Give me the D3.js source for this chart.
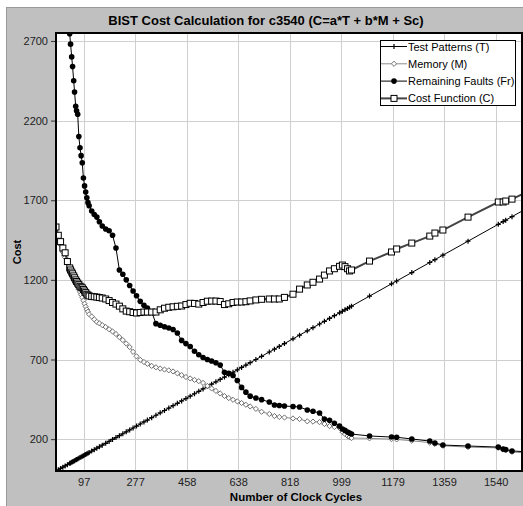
<!doctype html>
<html lang="en">
  <head>
    <meta charset="utf-8">
    <title>BIST Cost Calculation for c3540</title>
    <style>
      * { margin: 0; padding: 0; }
      body { background: #fff; overflow: hidden; }
      svg { display: block; font-family: "Liberation Sans", Arial, sans-serif; }
    </style>
    <script src="https://cdn.jsdelivr.net/npm/d3@7"></script>
  </head>
  <body>
    <svg width="523" height="506"></svg>

    <script>
      // shared clock-cycle samples (x) for every series
      const cycles = [0, 8, 16, 24, 32, 40, 48, 51, 55, 58, 62, 65, 69, 72, 76, 80, 84, 88, 92, 96,
        100, 104, 108, 112, 116, 125, 134, 143, 152, 162, 174, 186, 198, 210, 222, 234, 246, 258, 270, 282,
        295, 308, 320, 335, 350, 365, 380, 395, 410, 425, 440, 455, 470, 485, 500, 515, 530, 545, 560, 575,
        590, 605, 620, 635, 650, 665, 680, 700, 720, 747, 765, 782, 800, 830, 853, 880, 900, 923, 940, 958,
        975, 993, 1003, 1012, 1021, 1028, 1035, 1098, 1175, 1193, 1246, 1309, 1327, 1355, 1443, 1549, 1566, 1575, 1597, 1650];

      const testPatterns = [0, 8, 16, 24, 32, 40, 48, 51, 55, 58, 62, 65, 69, 72, 76, 80, 84, 88, 92, 96,
        100, 104, 108, 112, 116, 125, 134, 143, 152, 162, 174, 186, 198, 210, 222, 234, 246, 258, 270, 282,
        295, 308, 320, 335, 350, 365, 380, 395, 410, 425, 440, 455, 470, 485, 500, 515, 530, 545, 560, 575,
        590, 605, 620, 635, 650, 665, 680, 700, 720, 747, 765, 782, 800, 830, 853, 880, 900, 923, 940, 958,
        975, 993, 1003, 1012, 1021, 1028, 1035, 1098, 1175, 1193, 1246, 1309, 1327, 1355, 1443, 1549, 1566, 1575, 1597, 1650];

      const memory = [1520, 1470, 1420, 1375, 1340, 1310, 1280, 1268, 1250, 1236, 1218, 1204, 1186, 1172, 1157, 1140, 1124, 1107, 1090, 1070,
        1050, 1032, 1015, 1000, 984, 970, 952, 936, 927, 916, 904, 890, 876, 860, 840, 822, 800, 778, 748, 720,
        698, 684, 673, 660, 651, 643, 637, 632, 625, 613, 602, 590, 581, 572, 564, 553, 534, 518, 503, 487,
        471, 458, 447, 437, 427, 416, 405, 390, 372, 358, 345, 339, 336, 330, 326, 312, 310, 307, 295, 282,
        276, 270, 245, 232, 220, 213, 207, 205, 200, 198, 190, 178, 170, 158, 150, 145, 135, 130, 120, 112];

      const remainingFaults = [3600, 3450, 3300, 3150, 3000, 2860, 2745, 2680, 2600, 2540, 2450, 2380, 2290, 2262, 2240, 2100, 2030, 1980, 1935, 1840,
        1790, 1751, 1715, 1685, 1665, 1632, 1610, 1594, 1565, 1538, 1519, 1508, 1480, 1400, 1262, 1235, 1200, 1165, 1130, 1100,
        1065, 1040, 1023, 1000, 925, 915, 906, 898, 888, 866, 820, 800, 782, 752, 730, 713, 700, 691, 680, 665,
        620, 614, 600, 568, 525, 495, 470, 458, 448, 433, 414, 411, 408, 405, 402, 383, 375, 364, 326, 318,
        300, 282, 264, 255, 245, 238, 232, 220, 213, 212, 201, 188, 176, 163, 157, 150, 138, 135, 126, 120];

      const costFunction = [1532, 1480, 1440, 1400, 1370, 1315, 1275, 1262, 1249, 1238, 1225, 1213, 1200, 1190, 1180, 1170, 1160, 1155, 1150, 1140,
        1130, 1120, 1110, 1104, 1099, 1096, 1094, 1092, 1089, 1086, 1080, 1070, 1058, 1048, 1035, 1018, 1004, 1000, 995, 992,
        995, 998, 998, 998, 998, 1012, 1022, 1028, 1031, 1034, 1036, 1045, 1053, 1052, 1048, 1058, 1066, 1067, 1067, 1064,
        1045, 1050, 1058, 1061, 1061, 1063, 1068, 1074, 1078, 1080, 1080, 1080, 1090, 1110, 1142, 1168, 1185, 1205, 1230, 1256,
        1270, 1285, 1293, 1283, 1270, 1256, 1262, 1318, 1375, 1394, 1431, 1475, 1494, 1513, 1594, 1689, 1689, 1695, 1707, 1752];

      const xTicks = [97, 277, 458, 638, 818, 999, 1179, 1359, 1540];
      const yTicks = [200, 700, 1200, 1700, 2200, 2700];

      const series = [
        { name: "Test Patterns (T)", values: testPatterns, line: "#000", width: 1, marker: "plus" },
        { name: "Memory (M)", values: memory, line: "#8c8c8c", width: 1, marker: "diamond" },
        { name: "Remaining Faults (Fr)", values: remainingFaults, line: "#000", width: 1, marker: "dot" },
        { name: "Cost Function (C)", values: costFunction, line: "#444", width: 2, marker: "square" }
      ];

      const plot = { left: 56, top: 33, right: 522, bottom: 471 };

      const svg = d3.select("svg");

      // grey panel
      svg.append("rect")
          .attr("x", 6.5).attr("y", 7.5)
          .attr("width", 520).attr("height", 502)
          .attr("fill", "#c0c0c0")
          .attr("stroke", "#9a9a9a");

      const x = d3.scaleLinear().domain([0, 1632]).range([plot.left, plot.right]);
      const y = d3.scaleLinear().domain([0, 2750]).range([plot.bottom, plot.top]);

      svg.append("rect")
          .attr("x", plot.left).attr("y", plot.top)
          .attr("width", plot.right - plot.left).attr("height", plot.bottom - plot.top)
          .attr("fill", "#fff");

      // grid
      const grid = svg.append("g").attr("stroke", "#cfcfcf").attr("stroke-width", 1);
      grid.selectAll(".gx").data(xTicks).join("line")
          .attr("x1", d => Math.round(x(d)) + 0.5).attr("x2", d => Math.round(x(d)) + 0.5)
          .attr("y1", plot.top).attr("y2", plot.bottom);
      grid.selectAll(".gy").data(yTicks).join("line")
          .attr("y1", d => Math.round(y(d)) + 0.5).attr("y2", d => Math.round(y(d)) + 0.5)
          .attr("x1", plot.left).attr("x2", plot.right);

      // axes
      const fmt = d3.format("d");
      const xAxis = svg.append("g")
          .attr("transform", `translate(0,${plot.bottom})`)
          .call(d3.axisBottom(x).tickValues(xTicks).tickFormat(fmt).tickSize(0).tickPadding(7));
      const yAxis = svg.append("g")
          .attr("transform", `translate(${plot.left},0)`)
          .call(d3.axisLeft(y).tickValues(yTicks).tickFormat(fmt).tickSize(5).tickPadding(3));
      [xAxis, yAxis].forEach(a => {
        a.select(".domain").remove();
        a.selectAll("text").attr("font-size", 11).attr("fill", "#222")
            .attr("font-family", "'Liberation Sans', Arial, sans-serif");
        a.selectAll("line").attr("stroke", "#333");
      });

      // clip for series
      svg.append("clipPath").attr("id", "clip")
        .append("rect")
          .attr("x", plot.left).attr("y", plot.top)
          .attr("width", plot.right - plot.left).attr("height", plot.bottom - plot.top);

      const marks = svg.append("g").attr("clip-path", "url(#clip)");

      function drawMarker(g, kind, cx, cy) {
        if (kind === "plus") {
          g.append("path").attr("d", `M${cx - 2.5},${cy}H${cx + 2.5}M${cx},${cy - 2.5}V${cy + 2.5}`)
              .attr("stroke", "#000").attr("stroke-width", 1.2);
        } else if (kind === "diamond") {
          g.append("path").attr("d", `M${cx},${cy - 2.6}L${cx + 2.6},${cy}L${cx},${cy + 2.6}L${cx - 2.6},${cy}Z`)
              .attr("fill", "#fff").attr("stroke", "#707070").attr("stroke-width", 1);
        } else if (kind === "dot") {
          g.append("circle").attr("cx", cx).attr("cy", cy).attr("r", 2.8).attr("fill", "#000");
        } else if (kind === "square") {
          g.append("rect").attr("x", cx - 3).attr("y", cy - 3).attr("width", 6).attr("height", 6)
              .attr("fill", "#fff").attr("stroke", "#000").attr("stroke-width", 1);
        }
      }

      const line = d3.line().x((d, i) => x(cycles[i])).y(d => y(d));

      series.forEach(s => {
        const g = marks.append("g");
        g.append("path")
            .attr("d", line(s.values))
            .attr("fill", "none")
            .attr("stroke", s.line)
            .attr("stroke-width", s.width);
        s.values.forEach((v, i) => drawMarker(g, s.marker, x(cycles[i]), y(v)));
      });

      // plot frame
      svg.append("rect")
          .attr("x", plot.left).attr("y", plot.top)
          .attr("width", plot.right - plot.left).attr("height", plot.bottom - plot.top)
          .attr("fill", "none").attr("stroke", "#000").attr("stroke-width", 2);

      // titles
      svg.append("text")
          .attr("x", 266).attr("y", 25)
          .attr("text-anchor", "middle")
          .attr("font-size", 13).attr("font-weight", "bold")
          .text("BIST Cost Calculation for c3540 (C=a*T + b*M + Sc)");
      svg.append("text")
          .attr("x", 296).attr("y", 501)
          .attr("text-anchor", "middle")
          .attr("font-size", 11.5).attr("font-weight", "bold")
          .text("Number of Clock Cycles");
      svg.append("text")
          .attr("transform", "translate(21,252) rotate(-90)")
          .attr("text-anchor", "middle")
          .attr("font-size", 11).attr("font-weight", "bold")
          .text("Cost");

      // legend
      const legend = svg.append("g").attr("transform", "translate(380,40)");
      legend.append("rect")
          .attr("x", 0.5).attr("y", 0.5).attr("width", 135).attr("height", 65)
          .attr("fill", "#fff").attr("stroke", "#000");
      series.forEach((s, i) => {
        const ly = 6.5 + i * 17.3;
        legend.append("line")
            .attr("x1", 1).attr("x2", 27).attr("y1", ly).attr("y2", ly)
            .attr("stroke", s.line).attr("stroke-width", s.width);
        drawMarker(legend, s.marker, 14, ly);
        legend.append("text")
            .attr("x", 28).attr("y", ly + 4)
            .attr("font-size", 11)
            .text(s.name);
      });
    </script>
  </body>
</html>
